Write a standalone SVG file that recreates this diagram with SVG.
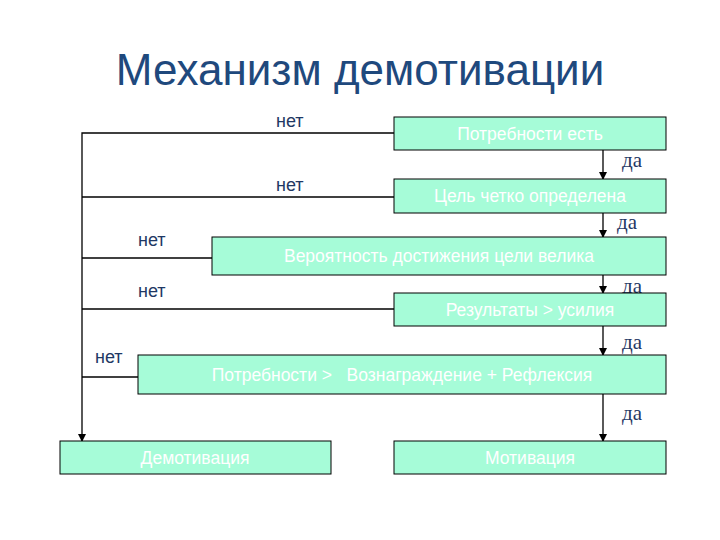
<svg xmlns="http://www.w3.org/2000/svg" width="720" height="540" viewBox="0 0 720 540">
<style>
.box{fill:#A6FCD8;stroke:#000;stroke-width:1}
.bt{font-family:"Liberation Sans",Arial,sans-serif;font-size:17.5px;fill:#fff;text-anchor:middle}
.no{font-family:"Liberation Sans",Arial,sans-serif;font-size:18px;fill:#1F3864}
.yes{font-family:"Liberation Serif","Times New Roman",serif;font-size:21px;fill:#1F3864}
.ln{stroke:#000;stroke-width:1.3;fill:none}
</style>
<defs>
<marker id="ah" markerWidth="8" markerHeight="8" refX="7" refY="4" orient="auto" markerUnits="userSpaceOnUse">
<path d="M0,0 L8,4 L0,8 Z" fill="#000"/>
</marker>
</defs>
<rect width="720" height="540" fill="#fff"/>
<text x="360" y="85" text-anchor="middle" font-family="'Liberation Sans',Arial,sans-serif" font-size="44" fill="#1F497D">Механизм демотивации</text>
<g id="connectors">
<path class="ln" d="M394,133 H82 V441" marker-end="url(#ah)"/>
<path class="ln" d="M394,197 H82"/>
<path class="ln" d="M212,258 H82"/>
<path class="ln" d="M394,309 H82"/>
<path class="ln" d="M138,377 H82"/>
<path class="ln" d="M603,150 V179" marker-end="url(#ah)"/>
<path class="ln" d="M603,213 V237" marker-end="url(#ah)"/>
<path class="ln" d="M603,275 V293" marker-end="url(#ah)"/>
<path class="ln" d="M603,326 V355" marker-end="url(#ah)"/>
<path class="ln" d="M603,394 V441" marker-end="url(#ah)"/>
<text class="no" x="276" y="127">нет</text>
<text class="no" x="276" y="191">нет</text>
<text class="no" x="138" y="246">нет</text>
<text class="no" x="138" y="297">нет</text>
<text class="no" x="95" y="363">нет</text>
<text class="yes" x="622" y="167">да</text>
<text class="yes" x="617" y="229">да</text>
<text class="yes" x="622" y="293">да</text>
<text class="yes" x="622" y="349">да</text>
<text class="yes" x="622" y="420">да</text>
</g>
<g id="n1"><rect class="box" x="394" y="117" width="272" height="33"/><text class="bt" x="530" y="140">Потребности есть</text></g>
<g id="n2"><rect class="box" x="394" y="179" width="272" height="34"/><text class="bt" x="530" y="202">Цель четко определена</text></g>
<g id="n3"><rect class="box" x="212" y="237" width="454" height="38"/><text class="bt" x="439" y="262">Вероятность достижения цели велика</text></g>
<g id="n4"><rect class="box" x="394" y="293" width="272" height="33"/><text class="bt" x="530" y="316">Результаты &gt;  усилия</text></g>
<g id="n5"><rect class="box" x="138" y="355" width="528" height="39"/><text class="bt" x="402" y="381" xml:space="preserve">Потребности &gt;   Вознаграждение + Рефлексия</text></g>
<g id="n6"><rect class="box" x="60" y="441" width="271" height="33"/><text class="bt" x="195" y="464">Демотивация</text></g>
<g id="n7"><rect class="box" x="394" y="441" width="272" height="33"/><text class="bt" x="530" y="464">Мотивация</text></g>
</svg>
